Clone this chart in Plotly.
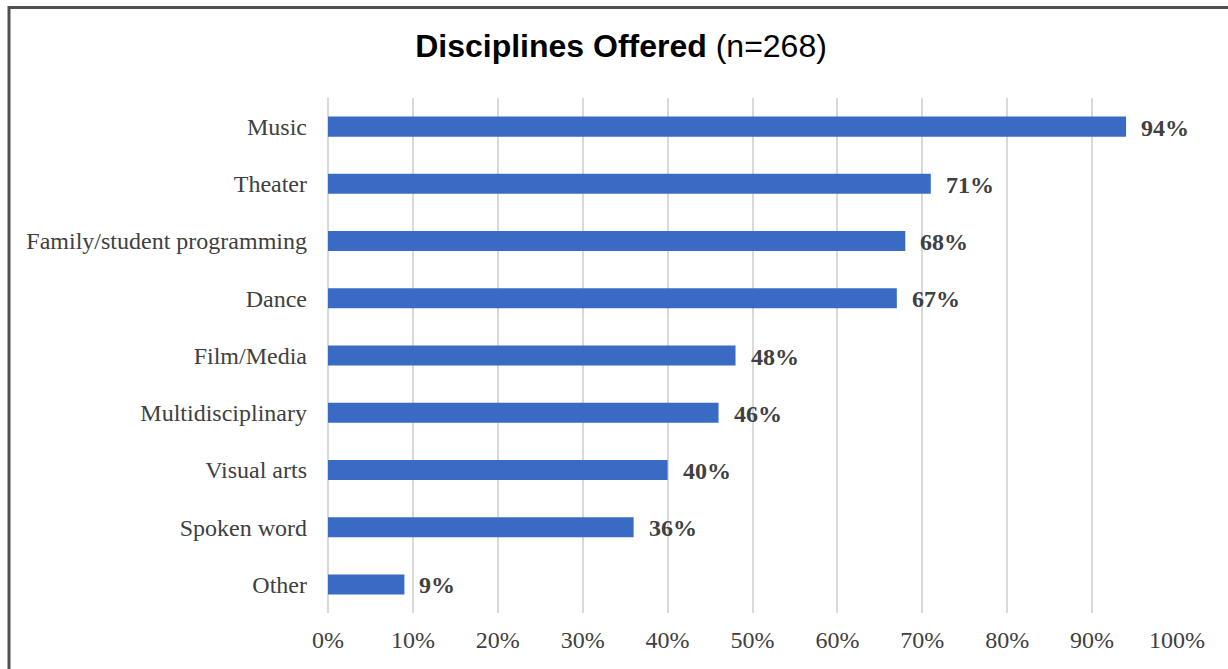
import plotly.graph_objects as go

# Share of venues offering each discipline (%)
categories = [
    "Music",
    "Theater",
    "Family/student programming",
    "Dance",
    "Film/Media",
    "Multidisciplinary",
    "Visual arts",
    "Spoken word",
    "Other",
]
values = [94, 71, 68, 67, 48, 46, 40, 36, 9]
tick_vals = [0, 10, 20, 30, 40, 50, 60, 70, 80, 90, 100]
tick_text = [f"{v}%" for v in tick_vals]

W, H = 1228, 669
L, R, T, B = 328, 51, 98, 56
plot_w = W - L - R
plot_h = H - T - B

BAR_COLOR = "#3A6BC4"
TEXT_COLOR = "#404040"
GRID_COLOR = "#D9D9D9"
SERIF = "Liberation Serif, Times New Roman, serif"

fig = go.Figure(
    go.Bar(
        x=values,
        y=categories,
        orientation="h",
        width=0.35,
        marker=dict(color=BAR_COLOR, line=dict(width=0)),
        hoverinfo="skip",
    )
)

# Value labels to the right of each bar
for cat, val in zip(categories, values):
    fig.add_annotation(
        x=val,
        y=cat,
        xref="x",
        yref="y",
        text=f"<b>{val}%</b>",
        showarrow=False,
        xanchor="left",
        yanchor="middle",
        xshift=13,
        yshift=-1,
        font=dict(family=SERIF, size=24, color=TEXT_COLOR),
    )

# Frame line along the top and left edges
px_to_x = lambda px: (px - L) / plot_w
py_to_y = lambda py: (H - B - py) / plot_h
fig.add_shape(
    type="path",
    xref="paper",
    yref="paper",
    path=(
        f"M {px_to_x(9)} {py_to_y(H + 5)} "
        f"L {px_to_x(9)} {py_to_y(7.5)} "
        f"L {px_to_x(W + 5)} {py_to_y(7.5)}"
    ),
    line=dict(color="#505050", width=3),
)

fig.update_layout(
    width=W,
    height=H,
    margin=dict(l=L, r=R, t=T, b=B),
    paper_bgcolor="white",
    plot_bgcolor="white",
    showlegend=False,
    title=dict(
        text="<b>Disciplines Offered</b> (n=268)",
        x=621 / W,
        xref="container",
        xanchor="center",
        y=1 - 46 / H,
        yref="container",
        yanchor="middle",
        font=dict(family="Liberation Sans, Arial, sans-serif", size=32, color="black"),
    ),
    xaxis=dict(
        range=[0, 100],
        tickvals=tick_vals,
        ticktext=tick_text,
        showgrid=True,
        gridcolor=GRID_COLOR,
        gridwidth=2,
        zeroline=True,
        zerolinecolor=GRID_COLOR,
        zerolinewidth=2,
        showline=False,
        ticks="",
        ticklabelstandoff=10,
        tickfont=dict(family=SERIF, size=24, color=TEXT_COLOR),
    ),
    yaxis=dict(
        categoryorder="array",
        categoryarray=categories,
        autorange="reversed",
        range=[-0.5, 8.5],
        showgrid=False,
        zeroline=False,
        showline=False,
        ticks="",
        ticklabelstandoff=20,
        tickfont=dict(family=SERIF, size=24, color=TEXT_COLOR),
    ),
)

fig.write_html("out.html")
